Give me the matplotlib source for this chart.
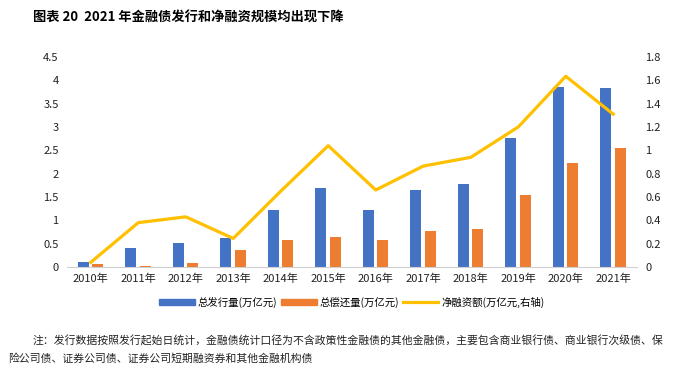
import matplotlib.pyplot as plt
import numpy as np
from matplotlib.patches import Patch
from matplotlib.lines import Line2D

plt.rcParams['font.family'] = ['Noto Sans CJK SC', 'DejaVu Sans']

years = ['2010年', '2011年', '2012年', '2013年', '2014年', '2015年',
         '2016年', '2017年', '2018年', '2019年', '2020年', '2021年']
issue = [0.11, 0.41, 0.52, 0.62, 1.22, 1.70, 1.23, 1.64, 1.77, 2.77, 3.86, 3.84]
repay = [0.07, 0.03, 0.09, 0.37, 0.58, 0.65, 0.57, 0.78, 0.82, 1.55, 2.22, 2.54]
net = [0.04, 0.38, 0.43, 0.245, 0.65, 1.04, 0.66, 0.865, 0.94, 1.20, 1.635, 1.31]

blue = '#4472C4'
orange = '#ED7D31'
yellow = '#FFC000'

fig = plt.figure(figsize=(6.81, 3.70), dpi=100)
ax = fig.add_axes([67/681, 1-267/370, 570/681, 210/370])
ax2 = ax.twinx()

x = np.arange(len(years))
w = 0.23
ax.bar(x - 0.155, issue, w, color=blue, zorder=2)
ax.bar(x + 0.145, repay, w, color=orange, zorder=2)
ax2.plot(x, net, color=yellow, lw=2.3, zorder=3)

ax.set_xlim(-0.5, len(years) - 0.5)
ax.set_ylim(0, 4.5)
ax2.set_ylim(0, 1.8)
ax.set_yticks(np.arange(0, 4.51, 0.5))
ax.set_yticklabels(['0', '0.5', '1', '1.5', '2', '2.5', '3', '3.5', '4', '4.5'])
ax2.set_yticks(np.arange(0, 1.81, 0.2))
ax2.set_yticklabels(['0', '0.2', '0.4', '0.6', '0.8', '1', '1.2', '1.4', '1.6', '1.8'])
ax.set_xticks(x)
ax.set_xticklabels(years)

for a in (ax, ax2):
    for s in a.spines.values():
        s.set_visible(False)
    a.tick_params(length=0, labelsize=8, colors='#222222')
ax.spines['bottom'].set_visible(True)
ax.spines['bottom'].set_color('#d0d0d0')
ax.tick_params(axis='y', pad=6)
ax2.tick_params(axis='y', pad=6)
ax.tick_params(axis='x', pad=5)

handles = [Patch(color=blue), Patch(color=orange), Line2D([0], [0], color=yellow, lw=2.3)]
labels = ['总发行量(万亿元)', '总偿还量(万亿元)', '净融资额(万亿元,右轴)']
fig.legend(handles, labels, loc='center', bbox_to_anchor=(352/681, 1-302/370), ncol=3,
           frameon=False, fontsize=7.5, handlelength=3.4, handleheight=0.55,
           handletextpad=0.3, columnspacing=0.35)

fig.text(33/681, 1-18/370, '图表 20  2021 年金融债发行和净融资规模均出现下降',
         fontsize=9.5, fontweight='bold', va='center')
fig.text(33/681, 1-341/370,
         '注：发行数据按照发行起始日统计，金融债统计口径为不含政策性金融债的其他金融债，主要包含商业银行债、商业银行次级债、保',
         fontsize=7.8, va='center', color='#222222')
fig.text(8/681, 1-359/370, '险公司债、证券公司债、证券公司短期融资券和其他金融机构债',
         fontsize=7.8, va='center', color='#222222')

fig.savefig('out.png', dpi=100)
